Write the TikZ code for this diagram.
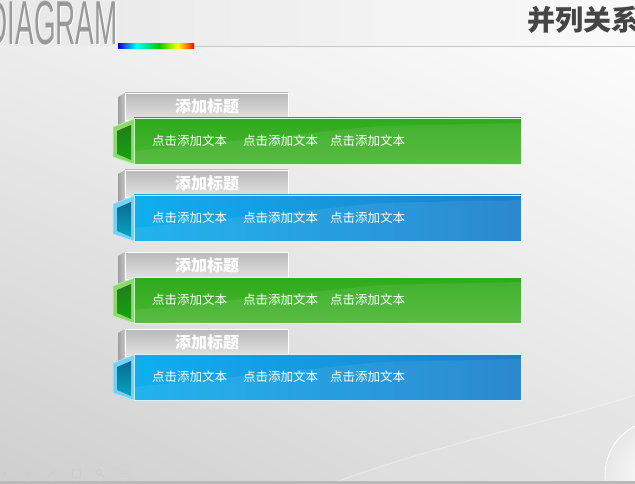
\documentclass[tikz,border=0pt]{standalone}
\usepackage{fontspec}
\usepackage{graphicx}
\usepackage{tikz}
\usetikzlibrary{positioning,shadings}
\newfontfamily\cjk{Noto Sans CJK SC}
\newfontfamily\diafont{Liberation Sans}
\definecolor{grnTop}{HTML}{2FAA1C}
\definecolor{grnBot}{HTML}{4BB733}
\definecolor{grnRim}{HTML}{8ED86C}
\definecolor{grnIn}{HTML}{1F7D1A}
\definecolor{bluL}{HTML}{10AEEE}
\definecolor{bluR}{HTML}{1B7FCB}
\definecolor{bluRim}{HTML}{74D2F6}
\definecolor{bluIn}{HTML}{0B6A94}
\definecolor{headgray}{HTML}{454545}
\pgfdeclarehorizontalshading{rainbowbar}{100bp}{color(0bp)=(blue!80!black); color(25bp)=(blue!80!black);
  color(37bp)=(cyan); color(52bp)=(green!80!black); color(64bp)=(yellow); color(70bp)=(orange); color(75bp)=(red); color(100bp)=(red)}

\begin{document}
\begin{tikzpicture}[x=1pt,y=-1pt,
	tabside/.style={left color=gray!75, right color=gray!45},
	tabface/.style={top color=gray!55, bottom color=gray!22, draw=white, line width=.6pt},
	tabtext/.style={text=white, font=\cjk\bfseries\fontsize{16}{16}\selectfont, inner sep=0},
	bartext/.style={text=white, font=\cjk\fontsize{12.5}{12.5}\selectfont, anchor=west, inner sep=0},
	greenbar/.style={top color=grnTop, bottom color=grnBot, draw=white!85!green, line width=.6pt},
	bluebar/.style={left color=bluL, right color=bluR, draw=white!85!cyan, line width=.6pt},
	gloss/.style={fill=white, fill opacity=.08},
	tool/.style={circle, draw=gray!35, line width=.6pt, minimum size=16pt, inner sep=0}]

	\useasboundingbox (0,0) rectangle (635,484);
	\clip (0,0) rectangle (635,484);
	% background
	\shade[upper left=gray!12, upper right=white, lower left=gray!38, lower right=gray!22] (0,0) rectangle (635,484);
	\shade[left color=gray!18, right color=gray!4] (0,0) rectangle (635,46);
	\fill[gray!20, opacity=.35] (330,484) .. controls (450,440) and (560,420) .. (635,395) -- (635,484) -- cycle;
	\draw[white, opacity=.35, line width=1pt] (330,484) .. controls (450,440) and (560,420) .. (635,395);
	\shade[inner color=white, outer color=gray!18] (660,475) circle (55);
	\draw[white, line width=.8pt] (660,475) circle (55);
	\shade[inner color=gray!5, outer color=gray!25] (652,512) circle (33);
	\fill[gray!55] (0,481) rectangle (635,484);

	% header
	\node[anchor=east, inner sep=0, text=white, font=\diafont\fontsize{62}{62}\selectfont] (diashade) at (119,24) {\scalebox{0.45}[1]{DIAGRAM}};
	\node[anchor=east, inner sep=0, text=gray!80, font=\diafont\fontsize{62}{62}\selectfont] (dia) at (118,23) {\scalebox{0.45}[1]{DIAGRAM}};
	\draw[gray!45, line width=1pt] (118,46.5) -- (635,46.5);
	\shade[shading=rainbowbar] (118,44) rectangle (194,48.5);
	\node[anchor=west, inner sep=0, text=headgray, font=\cjk\bfseries\fontsize{28}{28}\selectfont] (head) at (527,20) {并列关系};

	% band 1
	\begin{scope}[shift={(0,93)}]
		\shade[tabside] (118,4) -- (125,0) -- (125,29) -- (118,33) -- cycle;
		\shade[tabface] (125,0) rectangle (288,27);
		\node[tabtext] (title1) at (207,13) {添加标题};
		\shade[greenbar] (134,25) rectangle (521,71);
		\fill[gloss] (134,58) -- (380,33) -- (521,30) -- (521,71) -- (134,71) -- cycle;
		\fill[grnRim, draw=white!70!green, line width=.5pt] (113,34) -- (134,26) -- (134,71) -- (113,64) -- cycle;
		\shade[top color=grnIn, bottom color=grnIn!70!green] (117,38) -- (131,32) -- (131,67) -- (117,61) -- cycle;
		\node[bartext] (txt1a) at (152,48) {点击添加文本};
		\node[bartext] (txt1b) at (243,48) {点击添加文本};
		\node[bartext] (txt1c) at (330,48) {点击添加文本};
	\end{scope}

	% band 2
	\begin{scope}[shift={(0,170)}]
		\shade[tabside] (118,4) -- (125,0) -- (125,29) -- (118,33) -- cycle;
		\shade[tabface] (125,0) rectangle (288,27);
		\node[tabtext] (title2) at (207,13) {添加标题};
		\shade[bluebar] (134,25) rectangle (521,71);
		\fill[gloss] (134,58) -- (380,33) -- (521,30) -- (521,71) -- (134,71) -- cycle;
		\fill[bluRim, draw=white!70!cyan, line width=.5pt] (113,34) -- (134,26) -- (134,71) -- (113,64) -- cycle;
		\shade[top color=bluIn, bottom color=bluIn!60!cyan] (117,38) -- (131,32) -- (131,67) -- (117,61) -- cycle;
		\node[bartext] (txt2a) at (152,48) {点击添加文本};
		\node[bartext] (txt2b) at (243,48) {点击添加文本};
		\node[bartext] (txt2c) at (330,48) {点击添加文本};
	\end{scope}

	% band 3
	\begin{scope}[shift={(0,252)}]
		\shade[tabside] (118,4) -- (125,0) -- (125,29) -- (118,33) -- cycle;
		\shade[tabface] (125,0) rectangle (288,27);
		\node[tabtext] (title3) at (207,13) {添加标题};
		\shade[greenbar] (134,25) rectangle (521,71);
		\fill[gloss] (134,58) -- (380,33) -- (521,30) -- (521,71) -- (134,71) -- cycle;
		\fill[grnRim, draw=white!70!green, line width=.5pt] (113,34) -- (134,26) -- (134,71) -- (113,64) -- cycle;
		\shade[top color=grnIn, bottom color=grnIn!70!green] (117,38) -- (131,32) -- (131,67) -- (117,61) -- cycle;
		\node[bartext] (txt3a) at (152,48) {点击添加文本};
		\node[bartext] (txt3b) at (243,48) {点击添加文本};
		\node[bartext] (txt3c) at (330,48) {点击添加文本};
	\end{scope}

	% band 4
	\begin{scope}[shift={(0,329)}]
		\shade[tabside] (118,4) -- (125,0) -- (125,29) -- (118,33) -- cycle;
		\shade[tabface] (125,0) rectangle (288,27);
		\node[tabtext] (title4) at (207,13) {添加标题};
		\shade[bluebar] (134,25) rectangle (521,71);
		\fill[gloss] (134,58) -- (380,33) -- (521,30) -- (521,71) -- (134,71) -- cycle;
		\fill[bluRim, draw=white!70!cyan, line width=.5pt] (113,34) -- (134,26) -- (134,71) -- (113,64) -- cycle;
		\shade[top color=bluIn, bottom color=bluIn!60!cyan] (117,38) -- (131,32) -- (131,67) -- (117,61) -- cycle;
		\node[bartext] (txt4a) at (152,48) {点击添加文本};
		\node[bartext] (txt4b) at (243,48) {点击添加文本};
		\node[bartext] (txt4c) at (330,48) {点击添加文本};
	\end{scope}

	% toolbar
	\node[tool] (prev) at (5,473) {};
	\node[tool] (next) at (28,473) {};
	\node[tool] (pen) at (52,473) {};
	\node[tool] (slides) at (76,473) {};
	\node[tool] (zoom) at (100,473) {};
	\node[tool] (more) at (124,473) {};
	\fill[gray!40] (3,473) -- (6,471) -- (6,475) -- cycle;
	\fill[gray!40] (30,473) -- (27,471) -- (27,475) -- cycle;
	\draw[gray!40, line width=1pt] (48,477) -- (56,469);
	\draw[gray!40, line width=.6pt] (72,469) rectangle (80,477);
	\draw[gray!40, line width=.8pt] (99,472) circle (2.5) (101,474) -- (104,477);
	\draw[gray!40, line width=.6pt] (120,473.5) -- (121,473.5) (123.5,473.5) -- (124.5,473.5) (127,473.5) -- (128,473.5);
\end{tikzpicture}
\end{document}
